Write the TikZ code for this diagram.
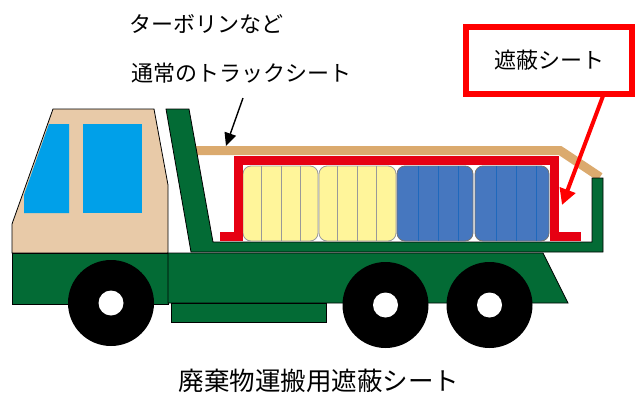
\documentclass[tikz,border=0pt]{standalone}
\usepackage{fontspec}
\newfontfamily\jpfont{Noto Sans CJK JP}
\usetikzlibrary{arrows.meta}
\definecolor{cabtan}{HTML}{E8CAA8}
\definecolor{glass}{HTML}{00A0E9}
\definecolor{truckgreen}{HTML}{036B35}
\definecolor{tarptan}{HTML}{DBAA6E}
\definecolor{sheetred}{HTML}{E60012}
\definecolor{baleyellow}{HTML}{FFF59A}
\definecolor{baleblue}{HTML}{4677BF}
\definecolor{baleline}{HTML}{1F68BC}
\definecolor{boxred}{HTML}{FF0000}
\begin{document}
\begin{tikzpicture}[x=1pt,y=-1pt,
  outline/.style={draw=black, line width=0.8pt},
  greenpart/.style={outline, fill=truckgreen},
  yellowbale/.style={draw=gray!80, line width=0.8pt, fill=baleyellow, rounded corners=8pt},
  bluebale/.style={draw=gray!90!black, line width=0.8pt, fill=baleblue, rounded corners=8pt},
  label/.style={font=\jpfont\fontsize{22}{26}\selectfont, inner sep=0pt},
  pointer/.style={line width=1.4pt, -{Triangle[length=13pt,width=12pt]}},
  redpointer/.style={line width=4pt, draw=boxred, -{Triangle[length=16pt,width=16pt]}}]
\useasboundingbox (0,0) rectangle (637,394);

% ordinary tarpaulin over the load
\draw[tarptan, line width=9pt, line join=miter] (190,150.5) -- (560,150.5) -- (600,177);

% headboard and loading bed
\draw[greenpart] (166,109) -- (189,109) -- (213,242) -- (592,242) -- (592,178)
  -- (603,178) -- (603,252) -- (191,252) -- cycle;

% cab
\draw[outline, fill=cabtan] (53,109) -- (154,109) -- (168,185) -- (168,253)
  -- (12,253) -- (12,224) -- cycle;
\fill[glass] (49,124) -- (69,124) -- (69,213) -- (24,213) -- (24,195) -- cycle;
\fill[glass] (83,124) rectangle (142,213);

% chassis
\draw[greenpart] (12,253) rectangle (168,304);
\draw[greenpart] (168,253) -- (543,253) -- (568,303) -- (168,303) -- cycle;
\draw[greenpart] (171,303) rectangle (326,322);

% bales
\foreach \a/\b in {243/318, 319/396} {
  \draw[yellowbale] (\a,166) rectangle (\b,241);
  \foreach \d in {18,38,57} \draw[gray!80, line width=0.8pt] (\a+\d,166) -- (\a+\d,241);
}
\foreach \a/\b in {397/473, 475/549} {
  \draw[bluebale] (\a,166) rectangle (\b,241);
  \foreach \d in {21,41,61} \draw[baleline, line width=0.8pt] (\a+\d,166) -- (\a+\d,241);
}

% shielding sheet
\draw[sheetred, line width=8.5pt, line join=miter]
  (220,236.5) -- (238.5,236.5) -- (238.5,160.5) -- (554.5,160.5) -- (554.5,236.5) -- (581,236.5);

% wheels
\foreach \cx/\cy in {111/303, 385.5/305, 489.5/305} {
  \fill[black] (\cx,\cy) circle[radius=43];
  \fill[white] (\cx,\cy) circle[radius=12.5];
}

% labels
\node[label] (tarp) at (206,24) {ターボリンなど};
\node[label] (normal) at (241,73) {通常のトラックシート};
\node[label, draw=boxred, line width=6pt, minimum width=166pt, minimum height=67pt] (shield) at (549,60.5) {\raisebox{-4pt}{遮蔽シート}};
\node[font=\jpfont\fontsize{25.5}{30}\selectfont, inner sep=0pt] (caption) at (319,380.5) {廃棄物運搬用遮蔽シート};

% pointers
\coordinate (tarpfrom) at (243,98);
\coordinate (tarpto) at (226,146);
\draw[pointer] (tarpfrom) -- (tarpto);
\coordinate (sheetfrom) at (603,96);
\coordinate (sheetto) at (562,205);
\draw[redpointer] (sheetfrom) -- (sheetto);
\end{tikzpicture}
\end{document}
